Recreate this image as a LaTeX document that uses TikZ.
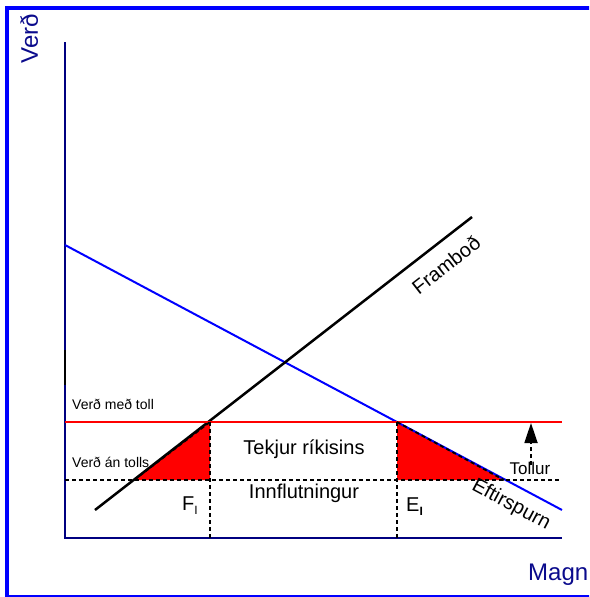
\documentclass[tikz,border=0pt]{standalone}
\usepackage{fontspec}
\setmainfont{Liberation Sans}
\usetikzlibrary{arrows.meta}
\definecolor{frameblue}{RGB}{0,0,255}
\definecolor{axisnavy}{RGB}{0,0,128}
\definecolor{labelnavy}{RGB}{10,10,140}
\definecolor{tariffred}{RGB}{255,0,0}
\begin{document}
\begin{tikzpicture}[x=1pt,y=-1pt,
  frame/.style={frameblue, line width=4pt},
  axis/.style={axisnavy, line width=1.6pt},
  demand/.style={frameblue, line width=2pt},
  supply/.style={black, line width=2.5pt},
  tariff/.style={tariffred, line width=2pt},
  guide/.style={black, line width=1.8pt, dash pattern=on 4pt off 3pt},
  area/.style={fill=tariffred},
  axislabel/.style={text=labelnavy, inner sep=0pt, font=\fontsize{24}{26}\selectfont},
  smalllabel/.style={inner sep=0pt, font=\fontsize{14}{16}\selectfont},
  biglabel/.style={inner sep=0pt, font=\fontsize{20}{22}\selectfont},
  midlabel/.style={inner sep=0pt, font=\fontsize{17}{19}\selectfont}]
\useasboundingbox (0,0) rectangle (589,597);
\clip (0,0) rectangle (589,597);

% coordinates
\coordinate (O) at (65,538);
\coordinate (Ytop) at (65,42);
\coordinate (Xend) at (562,538);
\coordinate (D1) at (65,245);
\coordinate (D2) at (562,510);
\coordinate (S1) at (95,510);
\coordinate (S2) at (472,217);
\coordinate (F) at (210,422);
\coordinate (Fb) at (134,480);
\coordinate (Fc) at (210,480);
\coordinate (Fd) at (210,538);
\coordinate (E) at (397,422);
\coordinate (Eb) at (504,480);
\coordinate (Ec) at (397,480);
\coordinate (Ed) at (397,538);
\coordinate (Rl) at (65,422);
\coordinate (Rr) at (562,422);
\coordinate (Gl) at (65,480);
\coordinate (Gr) at (560,480);
\coordinate (Ta) at (531,465);
\coordinate (Tb) at (531,423);
\coordinate (Mk1) at (65,350);
\coordinate (Mk2) at (65,385);

% frame
\draw[frame] (7,8) rectangle (620,597);

% red areas
\fill[area] (Fb) -- (F) -- (Fc) -- cycle;
\fill[area] (E) -- (Eb) -- (Ec) -- cycle;

% axes
\draw[axis] (Ytop) -- (O) -- (Xend);
\draw[black, line width=1.6pt] (Mk1) -- (Mk2);

% curves
\draw[demand] (D1) -- (D2);
\draw[supply] (S1) -- (S2);
\draw[tariff] (Rl) -- (Rr);

% guides
\draw[guide] (Gl) -- (Gr);
\draw[guide] (F) -- (Fd);
\draw[guide] (E) -- (Ed);
\draw[guide] (Fb) -- (F);
\draw[guide] (E) -- (Eb);
\draw[guide, -{Triangle[length=20pt,width=13pt]}] (Ta) -- (Tb);

% labels
\node[axislabel, rotate=90] (verd) at (29,39) {Verð};
\node[axislabel, anchor=base west] (magn) at (528,580) {Magn};
\node[smalllabel, anchor=west] (medtoll) at (72,404) {Verð með toll};
\node[smalllabel, anchor=west] (antolls) at (72,462) {Verð án tolls};
\node[biglabel] (tekjur) at (304,449) {Tekjur ríkisins};
\node[biglabel] (innfl) at (304,493) {Innflutningur};
\node[midlabel] (tollur) at (530,468) {Tollur};
\node[biglabel, rotate=38] (frambod) at (446,265) {Framboð};
\node[biglabel, rotate=-28] (eftir) at (511,505) {Eftirspurn};
\node[biglabel, anchor=west] (fi) at (182,506) {F\raisebox{-4pt}{\fontsize{12}{12}\selectfont I}};
\node[biglabel, anchor=west] (ei) at (406,507) {E\raisebox{-4pt}{\fontsize{12}{12}\selectfont\bfseries I}};
\end{tikzpicture}
\end{document}
